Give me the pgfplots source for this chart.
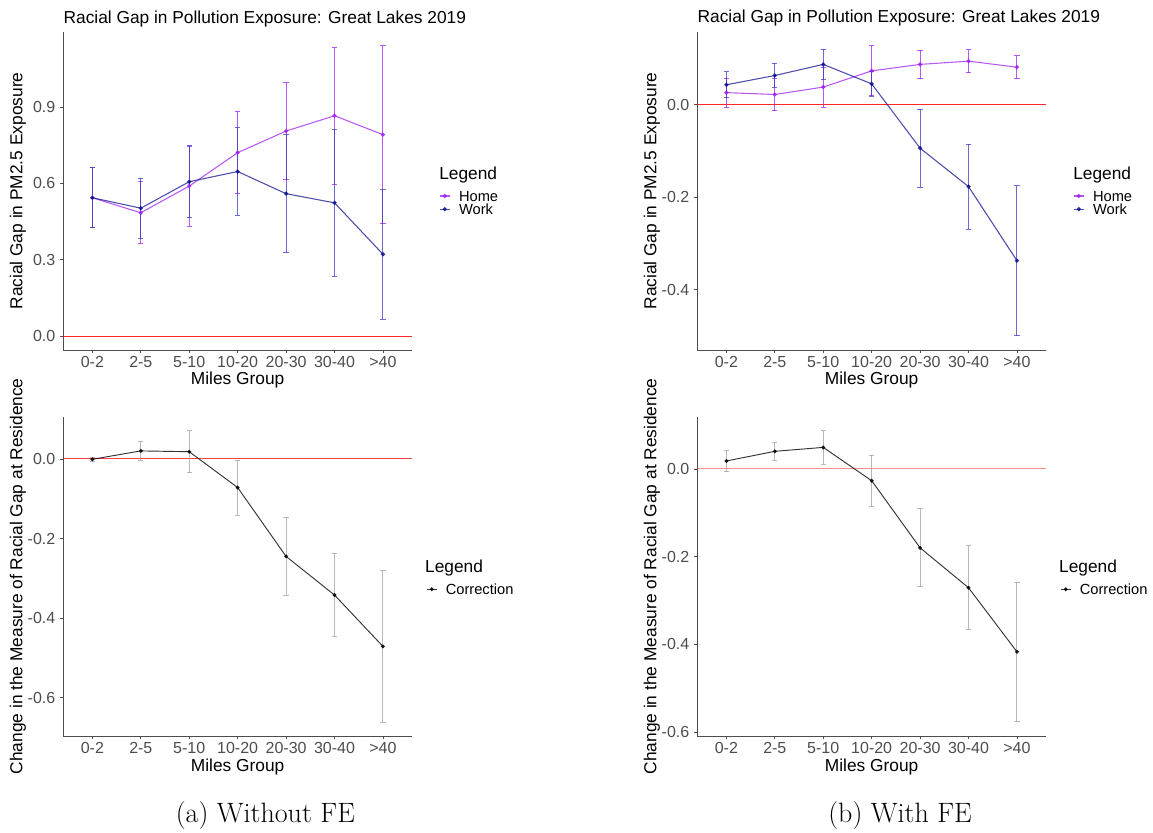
\documentclass[border=0pt]{standalone}
\usepackage{fontspec}
\newfontfamily\arial{Liberation Sans}
\usepackage{pgfplots}
\pgfplotsset{compat=1.18}
\definecolor{homecol}{HTML}{A020F0}
\definecolor{workcol}{HTML}{10108F}
\definecolor{workbar}{HTML}{3A3AC4}
\definecolor{axgray}{HTML}{4D4D4D}
\definecolor{ebgray}{HTML}{A0A0A0}

\pgfplotsset{
  panel/.style={scale only axis, width=261.5pt, anchor=south west, clip=false,
    xmin=-0.6, xmax=6.6, xtick={0,...,6},
    xticklabels={0-2,2-5,5-10,10-20,20-30,30-40,>40},
    axis x line=bottom, axis y line=left,
    axis line style={-, axgray, line width=0.6pt},
    tick style={axgray, line width=0.5pt}, tick align=outside, major tick length=2.5pt,
    tick label style={font=\arial\fontsize{12}{12}\selectfont, text=axgray},
    xticklabel style={yshift=1pt},
    xlabel={Miles Group},
    label style={font=\arial\fontsize{13}{13}\selectfont},
    xlabel style={at={(axis description cs:0.5,-0.11)}, anchor=base},
    ylabel style={at={(axis description cs:-0.130,0.5)}, anchor=center},
    legend cell align=left,
    legend image code/.code={\draw[mark repeat=2, mark phase=2, #1] plot coordinates {(0pt,0pt) (3.75pt,0pt) (7.5pt,0pt)};},
    legend style={draw=none, fill=none, inner sep=0pt, row sep=1.1pt,
      font=\arial\fontsize{11}{11}\selectfont,
      nodes={inner xsep=1.5pt, inner ysep=0.5pt, text depth=0pt}}},
  ebar/.style={error bars/y dir=both, error bars/y explicit,
    error bars/error bar style={draw=#1, color=#1, line width=0.7pt, opacity=0.75},
    error bars/error mark options={rotate=90, draw=#1, color=#1, mark size=2pt, line width=0.7pt, opacity=0.75}},
  home/.style={homecol, line width=0.8pt, opacity=0.75, mark=*, mark size=1.2pt, ebar=homecol},
  work/.style={workcol, line width=0.8pt, opacity=0.75, mark=*, mark size=1.2pt, ebar=workbar},
  corr/.style={black, line width=0.7pt, opacity=0.8, mark=*, mark size=1.1pt, ebar=ebgray}
}

% columns: x, estimate, half-width of the interval
\pgfplotstableread{
x y e
0 0.543 0.118
1 0.484 0.122
2 0.589 0.157
3 0.720 0.160
4 0.805 0.191
5 0.865 0.268
6 0.791 0.349
}\homeA
\pgfplotstableread{
x y e
0 0.543 0.118
1 0.502 0.117
2 0.606 0.141
3 0.646 0.172
4 0.559 0.232
5 0.523 0.288
6 0.321 0.256
}\workA
\pgfplotstableread{
x y e
0 0.026 0.031
1 0.022 0.035
2 0.038 0.043
3 0.073 0.054
4 0.087 0.031
5 0.094 0.025
6 0.081 0.025
}\homeB
\pgfplotstableread{
x y e
0 0.043 0.028
1 0.063 0.026
2 0.087 0.033
3 0.045 0.027
4 -0.094 0.084
5 -0.177 0.092
6 -0.337 0.162
}\workB
\pgfplotstableread{
x y e
0 -0.001 0.005
1 0.020 0.023
2 0.018 0.053
3 -0.072 0.069
4 -0.245 0.098
5 -0.342 0.105
6 -0.471 0.190
}\corrA
\pgfplotstableread{
x y e
0 0.018 0.025
1 0.040 0.021
2 0.049 0.038
3 -0.027 0.058
4 -0.180 0.089
5 -0.271 0.096
6 -0.417 0.159
}\corrB

\newcommand\legtitle{\arial\fontsize{13}{13}\selectfont}
\newcommand\keygap{\hspace{5pt}}

\begin{document}
\begin{tikzpicture}
\path (0pt,0pt) rectangle (864.75pt,-624pt);

% (a) top
\begin{axis}[panel, at={(47.5pt,-262.5pt)}, height=238.5pt,
  ymin=-0.055, ymax=1.194, ytick={0,0.3,0.6,0.9}, yticklabels={0.0,0.3,0.6,0.9},
  ylabel={Racial Gap in PM2.5 Exposure},
  legend style={at={(axis description cs:1.0775,0.503)}, anchor=north west}]
  \addplot[red, line width=0.6pt, opacity=0.85, forget plot] coordinates {(-0.6,0) (6.6,0)};
  \addplot[home] table[x=x, y=y, y error=e]{\homeA};
  \addlegendentry{\keygap Home}
  \addplot[work] table[x=x, y=y, y error=e]{\workA};
  \addlegendentry{\keygap Work}
  \node[anchor=base west, inner sep=0pt, font=\legtitle] at (axis description cs:0,1.0283) {Racial Gap in Pollution Exposure: Great Lakes 2019};
  \node[anchor=base west, inner sep=0pt, font=\legtitle] at (axis description cs:1.0775,0.537) {Legend};
\end{axis}

% (b) top
\begin{axis}[panel, at={(523pt,-262.5pt)}, height=238.5pt,
  ymin=-0.530, ymax=0.157, ytick={-0.4,-0.2,0}, yticklabels={-0.4,-0.2,0.0},
  ylabel={Racial Gap in PM2.5 Exposure},
  legend style={at={(axis description cs:1.0775,0.503)}, anchor=north west}]
  \addplot[red, line width=0.6pt, opacity=0.85, forget plot] coordinates {(-0.6,0) (6.6,0)};
  \addplot[home] table[x=x, y=y, y error=e]{\homeB};
  \addlegendentry{\keygap Home}
  \addplot[work] table[x=x, y=y, y error=e]{\workB};
  \addlegendentry{\keygap Work}
  \node[anchor=base west, inner sep=0pt, font=\legtitle] at (axis description cs:0,1.0283) {Racial Gap in Pollution Exposure: Great Lakes 2019};
  \node[anchor=base west, inner sep=0pt, font=\legtitle] at (axis description cs:1.0775,0.537) {Legend};
\end{axis}

% (a) bottom
\begin{axis}[panel, at={(47.5pt,-552pt)}, height=239.5pt,
  ymin=-0.696, ymax=0.106, ytick={-0.6,-0.4,-0.2,0}, yticklabels={-0.6,-0.4,-0.2,0.0},
  ylabel={Change in the Measure of Racial Gap at Residence},
  legend style={at={(axis description cs:1.04,0.479)}, anchor=north west}]
  \addplot[red, line width=0.6pt, opacity=0.75, forget plot] coordinates {(-0.6,0) (6.6,0)};
  \addplot[corr] table[x=x, y=y, y error=e]{\corrA};
  \addlegendentry{\keygap Correction}
  \node[anchor=base west, inner sep=0pt, font=\legtitle] at (axis description cs:1.037,0.513) {Legend};
\end{axis}

% (b) bottom
\begin{axis}[panel, at={(523pt,-552pt)}, height=239.5pt,
  ymin=-0.609, ymax=0.119, ytick={-0.6,-0.4,-0.2,0}, yticklabels={-0.6,-0.4,-0.2,0.0},
  ylabel={Change in the Measure of Racial Gap at Residence},
  legend style={at={(axis description cs:1.04,0.479)}, anchor=north west}]
  \addplot[red, line width=0.6pt, opacity=0.45, forget plot] coordinates {(-0.6,0) (6.6,0)};
  \addplot[corr] table[x=x, y=y, y error=e]{\corrB};
  \addlegendentry{\keygap Correction}
  \node[anchor=base west, inner sep=0pt, font=\legtitle] at (axis description cs:1.037,0.513) {Legend};
\end{axis}

\node[anchor=base, inner sep=0pt, font=\fontsize{21}{25}\selectfont] at (199pt,-616.5pt) {(a) Without FE};
\node[anchor=base, inner sep=0pt, font=\fontsize{21}{25}\selectfont] at (675pt,-616.5pt) {(b) With FE};
\end{tikzpicture}
\end{document}
